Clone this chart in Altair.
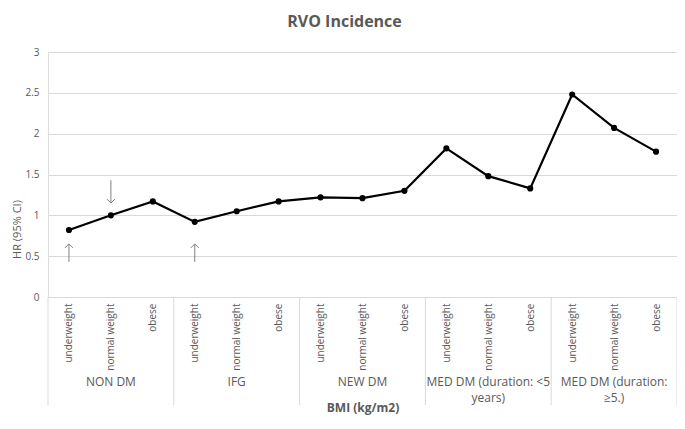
import json
import altair as alt
import pandas as pd

# ---- data ----
groups = ["NON DM", "IFG", "NEW DM", "MED DM (duration: <5\nyears)", "MED DM (duration:\n≥5.)"]
bmi_cats = ["underweight", "normal weight", "obese"]
hr = [0.82, 1.00, 1.17,
      0.92, 1.05, 1.17,
      1.22, 1.21, 1.30,
      1.82, 1.48, 1.33,
      2.48, 2.07, 1.78]

# annotation arrows (category index, tail value, head value, direction)
arrow_idx = [0, 1, 3]
arrow_tail = [0.43, 1.43, 0.43]
arrow_head = [0.65, 1.15, 0.65]
arrow_dir = ["up", "down", "up"]

y_ticks = [0, 0.5, 1, 1.5, 2, 2.5, 3]

TXT = "#595959"
GRID = "#d9d9d9"
FONT = "Open Sans"

n = len(hr)
df = pd.DataFrame({
    "pos": [i + 0.5 for i in range(n)],
    "group": [groups[i // 3] for i in range(n)],
    "bmi": [bmi_cats[i % 3] for i in range(n)],
    "hr": hr,
})
gdf = pd.DataFrame({"pos": [3 * g + 1.5 for g in range(len(groups))], "label": groups})
sdf = pd.DataFrame({"pos": [3 * g for g in range(len(groups) + 1)]})
adf = pd.DataFrame({
    "pos": [i + 0.5 for i in arrow_idx],
    "tail": arrow_tail,
    "head": arrow_head,
    "dir": arrow_dir,
})

W, H = 629, 245

label_expr = json.dumps(bmi_cats).replace('"', "'") + "[floor(datum.value) % 3]"

xscale = alt.Scale(domain=[0, n], nice=False, zero=False)
yscale = alt.Scale(domain=[0, 3], nice=False)

x_axis = alt.Axis(
    values=[i + 0.5 for i in range(n)], labelExpr=label_expr, grid=False, ticks=False,
    domain=True, domainColor=GRID, labelAngle=270, labelAlign="right", labelBaseline="middle",
    labelPadding=6, labelFontSize=10, labelColor=TXT, labelFont=FONT,
    title="BMI (kg/m2)", titleFontSize=12, titleFontWeight="bold", titleColor=TXT, titleFont=FONT,
    titleY=110, titleBaseline="middle", labelOverlap=False,
)
y_axis = alt.Axis(
    values=y_ticks, format="~g", grid=True, gridColor=GRID, gridWidth=1, domain=False, ticks=False,
    labelPadding=9, labelFontSize=10, labelColor=TXT, labelFont=FONT,
    title="HR (95% CI)", titleFontSize=11, titleFontWeight="normal", titleColor=TXT, titleFont=FONT,
    titleX=-31, titleY=177, titleBaseline="middle", titleAngle=270,
)

base = alt.Chart(df)

line = base.mark_line(color="black", strokeWidth=2.2).encode(
    x=alt.X("pos:Q", scale=xscale, axis=x_axis),
    y=alt.Y("hr:Q", scale=yscale, axis=y_axis),
)
pts = base.mark_point(filled=True, color="black", size=38, opacity=1).encode(
    x=alt.X("pos:Q", scale=xscale), y=alt.Y("hr:Q", scale=yscale)
)

seps = alt.Chart(sdf).mark_rule(color=GRID, strokeWidth=1).encode(
    x=alt.X("pos:Q", scale=xscale), y=alt.value(H), y2=alt.value(H + 108)
)
glabels = alt.Chart(gdf).mark_text(
    fontSize=12, color=TXT, font=FONT, baseline="top", align="center", lineBreak="\n", lineHeight=16
).encode(x=alt.X("pos:Q", scale=xscale), y=alt.value(H + 80), text="label:N")

arrow_shaft = alt.Chart(adf).mark_rule(color="#7f7f7f", strokeWidth=1).encode(
    x=alt.X("pos:Q", scale=xscale), y=alt.Y("tail:Q", scale=yscale), y2="head:Q"
)
arrow_tip = alt.Chart(adf).mark_point(filled=False, color="#7f7f7f", strokeWidth=1, size=64, opacity=1).encode(
    x=alt.X("pos:Q", scale=xscale),
    y=alt.Y("head:Q", scale=yscale),
    shape=alt.Shape("dir:N", scale=alt.Scale(domain=["up", "down"],
                                              range=["M-1,1L0,0L1,1", "M-1,-1L0,0L1,-1"]), legend=None),
)

chart = alt.layer(seps, arrow_shaft, arrow_tip, line, pts, glabels).properties(
    width=W, height=H,
    title=alt.TitleParams("RVO Incidence", fontSize=16, fontWeight="bold", color=TXT, font=FONT,
                          offset=17, dx=-18),
    autosize=alt.AutoSizeParams(type="none"),
    padding={"left": 40, "top": 44, "right": 0, "bottom": 124},
).configure_view(stroke=None).configure(font=FONT)

chart.save("out.html", embed_options={"renderer": "svg", "actions": False})
